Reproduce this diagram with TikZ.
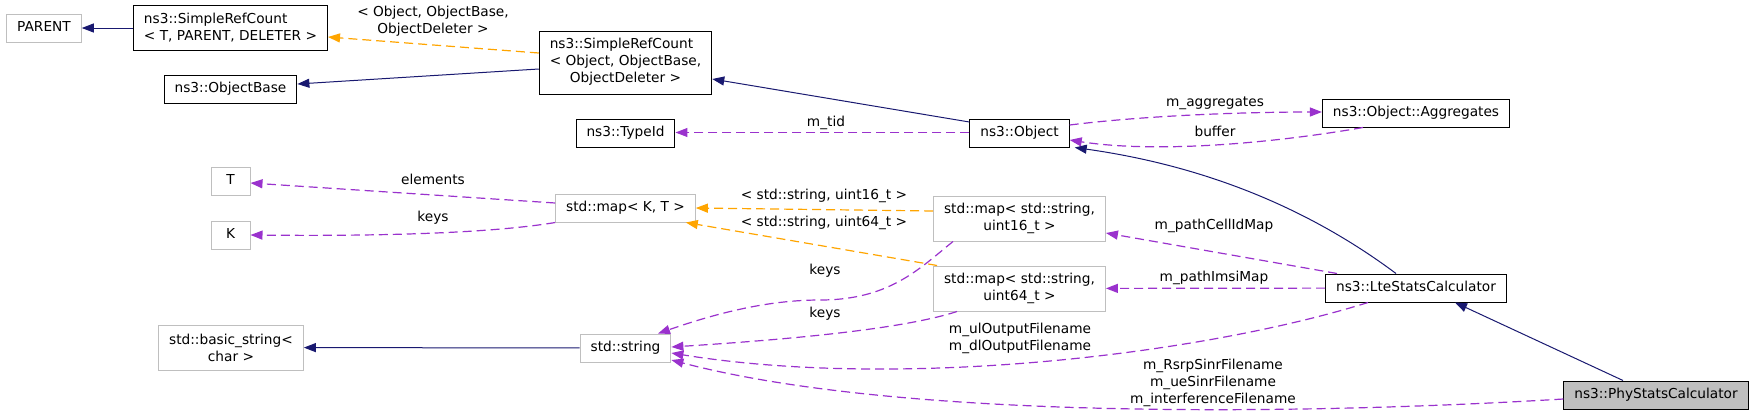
\documentclass[tikz,border=0pt]{standalone}
\usepackage{fontspec}
\setmainfont{DejaVu Sans}
\usetikzlibrary{arrows.meta,calc}
\definecolor{navy}{HTML}{191970}
\definecolor{purp}{HTML}{9A32CD}
\definecolor{orng}{HTML}{FFA500}
\definecolor{boxgray}{HTML}{BFBFBF}

\begin{document}
\begin{tikzpicture}[x=1pt,y=-1pt,
    font=\fontsize{13.7}{17}\selectfont,
    cls/.style={draw=black,line width=1pt,inner xsep=10.5pt,inner ysep=0pt,
        minimum height=28pt,minimum width=39pt,text height=10.5pt,text depth=3pt},
    ext/.style={cls,draw=boxgray},
    two/.style={text height=,text depth=,minimum height=45pt},
    inh/.style={draw=navy,line width=1pt,-{Triangle[length=12pt,width=9pt]}},
    mem/.style={draw=purp,line width=1.2pt,dash pattern=on 9pt off 5pt,
        -{Triangle[length=12pt,width=9pt]}},
    tpl/.style={mem,draw=orng},
    lbl/.style={inner sep=0pt,align=center}]
    \useasboundingbox (0,0) rectangle (1755,418);

    % classes
    \node[ext] (1) at (44,28) {PARENT};
    \node[cls,two,align=left] (2) at (230.5,28) {ns3::SimpleRefCount\\< T, PARENT, DELETER >};
    \node[cls] (3) at (230.5,89) {ns3::ObjectBase};
    \node[cls,two,minimum height=63pt] (4) at (625.5,62.5)
        {\begin{tabular}{@{}l@{}}ns3::SimpleRefCount\\< Object, ObjectBase,\\
         \multicolumn{1}{@{}c@{}}{ObjectDeleter >}\end{tabular}};
    \node[cls] (5) at (625.5,133) {ns3::TypeId};
    \node[cls] (6) at (1019.5,133) {ns3::Object};
    \node[cls] (7) at (1416,113) {ns3::Object::Aggregates};
    \node[ext] (8) at (230.5,181) {T};
    \node[ext] (9) at (230.5,235) {K};
    \node[ext] (10) at (625.5,208) {std::map< K, T >};
    \node[ext,two,align=center] (11) at (1019.5,218.5) {std::map< std::string,\\uint16\_t >};
    \node[ext,two,align=center] (12) at (1019.5,288.5) {std::map< std::string,\\uint64\_t >};
    \node[cls] (13) at (1416,288) {ns3::LteStatsCalculator};
    \node[ext,two,align=center] (14) at (231,347.5) {std::basic\_string<\\char >};
    \node[ext] (15) at (625.5,348) {std::string};
    \node[cls,fill=boxgray] (16) at (1656,395) {ns3::PhyStatsCalculator};

    % inheritance
    \draw[inh] (2.west) -- (1.east);
    \draw[inh] ([yshift=-6.5pt]4.west) -- ([yshift=5pt]3.east);
    \draw[inh] ([yshift=11pt]6.west) -- ([yshift=-16.5pt]4.east);
    \draw[inh] ([xshift=-20pt]13.north) .. controls (1335,228) and (1235,170) .. ([xshift=5pt]6.south east);
    \draw[inh] (15) -- (14);
    \draw[inh] ([xshift=-33pt]16.north) -- ([xshift=39pt]13.south);

    % templates
    \draw[tpl] ([yshift=9.5pt]4.west) -- ([yshift=-9pt]2.east);
    \draw[tpl] ([yshift=7.5pt]11.west) -- (10.east);
    \draw[tpl] ([xshift=4pt]12.north west) -- ([xshift=-10pt]10.south east);

    % members
    \draw[mem] ([yshift=0.5pt]6.west) -- ([yshift=0.5pt]5.east);
    \draw[mem] ([yshift=8pt]6.east) .. controls (1150,115) and (1250,112) .. ([yshift=1pt]7.west);
    \draw[mem] ([xshift=-53pt]7.south) .. controls (1280,142) and (1160,154) .. ([yshift=-7pt]6.east);
    \draw[mem] ([yshift=5pt]10.west) -- ([yshift=-2pt]8.east);
    \draw[mem] (10.south west) .. controls (480,235) and (350,236) .. (9.east);
    \draw[mem] ([xshift=-66.5pt]11.south) .. controls (920,268) and (890,300) .. (820,300)
        .. controls (770,300) and (720,312) .. ([xshift=32.5pt]15.north);
    \draw[mem] ([xshift=-62.5pt]12.south) .. controls (900,330) and (780,340) .. ([yshift=1pt]15.east);
    \draw[mem] ([xshift=-79pt]13.north) -- ([yshift=-14.5pt]11.east);
    \draw[mem] (13) -- (12);
    \draw[mem] ([xshift=-48pt]13.south) .. controls (1200,355) and (900,390) .. ([yshift=-5pt]15.east);
    \draw[mem] ([yshift=-4pt]16.west) .. controls (1300,415) and (900,420) .. ([yshift=-12pt]15.east);

    % labels
    \node[lbl] (l1) at (433,21) {< Object, ObjectBase,\\ObjectDeleter >};
    \node[lbl] (l2) at (826,123) {m\_tid};
    \node[lbl] (l3) at (1215,103) {m\_aggregates};
    \node[lbl] (l4) at (1215,131) {buffer};
    \node[lbl] (l5) at (433,179) {elements};
    \node[lbl] (l6) at (433,218) {keys};
    \node[lbl] (l7) at (824,196) {< std::string, uint16\_t >};
    \node[lbl] (l8) at (824,223) {< std::string, uint64\_t >};
    \node[lbl] (l9) at (825,271) {keys};
    \node[lbl] (l10) at (825,314) {keys};
    \node[lbl] (l11) at (1214,226) {m\_pathCellIdMap};
    \node[lbl] (l12) at (1214,278) {m\_pathImsiMap};
    \node[lbl] (l13) at (1020,338.5) {m\_ulOutputFilename\\m\_dlOutputFilename};
    \node[lbl] (l14) at (1213,383) {m\_RsrpSinrFilename\\m\_ueSinrFilename\\m\_interferenceFilename};
\end{tikzpicture}
\end{document}
